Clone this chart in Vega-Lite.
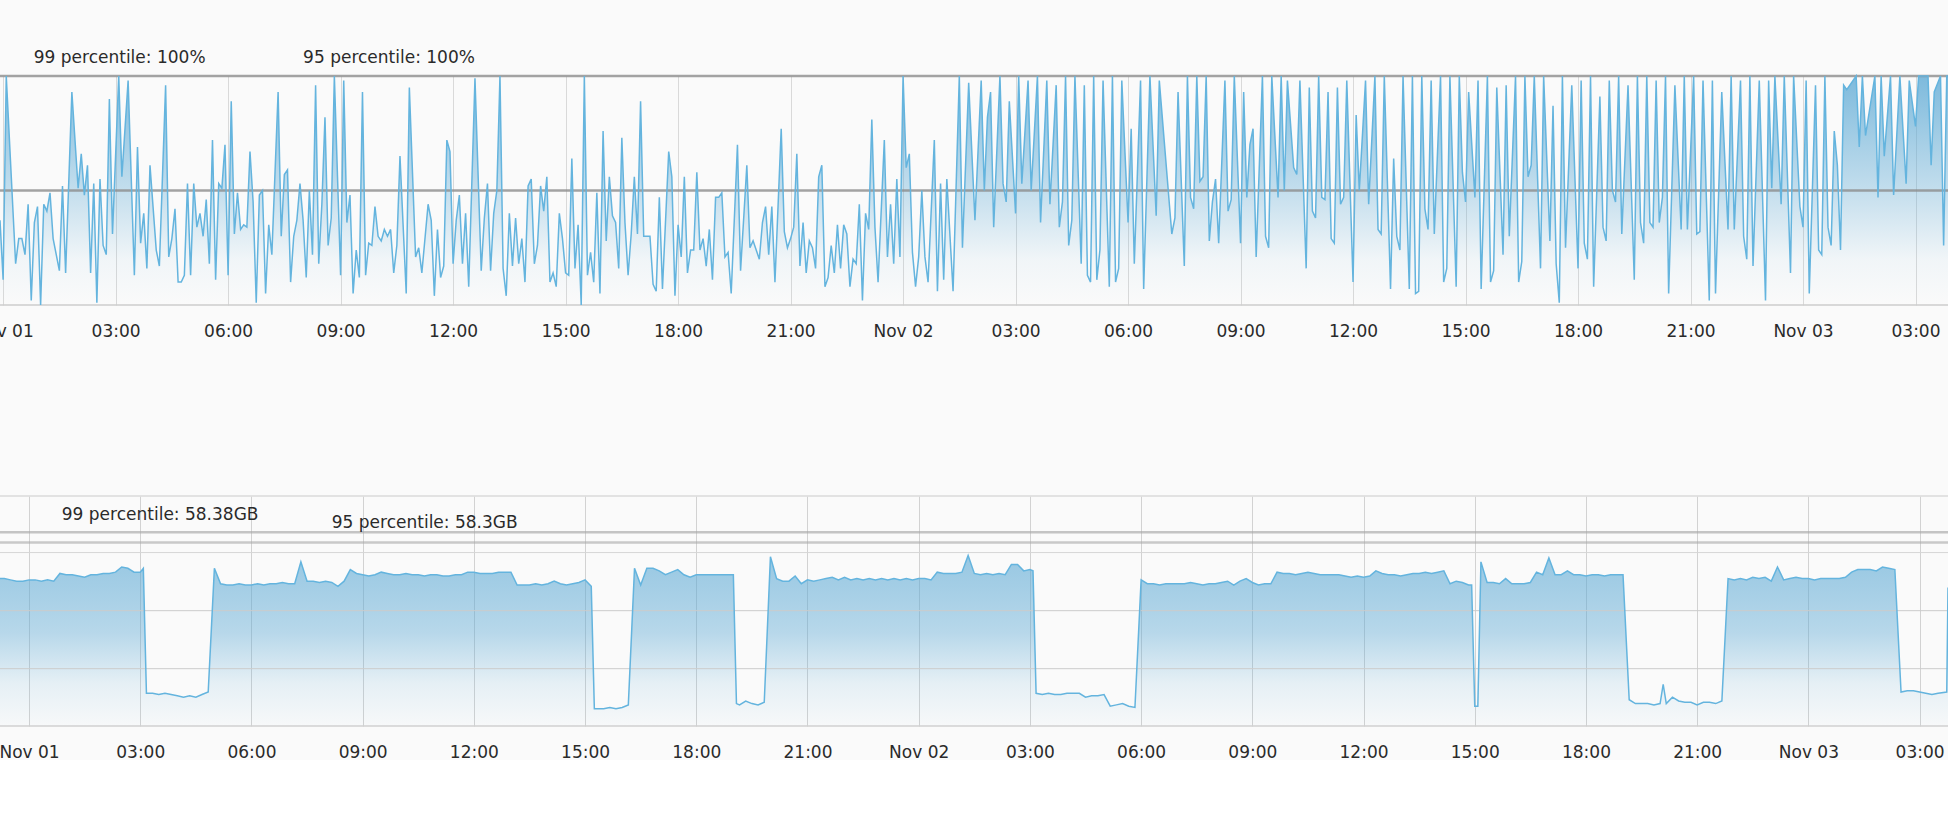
{
  "$schema": "https://vega.github.io/schema/vega-lite/v6.json",
  "padding": {"left": -27, "top": 48, "right": 0, "bottom": 0},
  "background": "#fafafa",
  "spacing": 191,
  "bounds": "flush",
  "config": {"view": {"stroke": null}, "font": "DejaVu Sans"},
  "datasets": {
    "cpu": [
      {"t":"2023-10-31T23:55","v":37},{"t":"2023-11-01T00:00","v":11},{"t":"2023-11-01T00:05","v":100},{"t":"2023-11-01T00:20","v":18},
      {"t":"2023-11-01T00:25","v":29},{"t":"2023-11-01T00:30","v":29},{"t":"2023-11-01T00:35","v":22},{"t":"2023-11-01T00:40","v":44},
      {"t":"2023-11-01T00:45","v":2},{"t":"2023-11-01T00:50","v":36},{"t":"2023-11-01T00:55","v":43},{"t":"2023-11-01T01:00","v":0},
      {"t":"2023-11-01T01:05","v":44},{"t":"2023-11-01T01:10","v":41},{"t":"2023-11-01T01:15","v":49},{"t":"2023-11-01T01:20","v":29},
      {"t":"2023-11-01T01:30","v":15},{"t":"2023-11-01T01:35","v":52},{"t":"2023-11-01T01:40","v":14},{"t":"2023-11-01T01:50","v":93},
      {"t":"2023-11-01T02:00","v":51},{"t":"2023-11-01T02:05","v":66},{"t":"2023-11-01T02:10","v":48},{"t":"2023-11-01T02:15","v":61},
      {"t":"2023-11-01T02:20","v":14},{"t":"2023-11-01T02:25","v":53},{"t":"2023-11-01T02:30","v":1},{"t":"2023-11-01T02:35","v":55},
      {"t":"2023-11-01T02:40","v":26},{"t":"2023-11-01T02:45","v":22},{"t":"2023-11-01T02:50","v":90},{"t":"2023-11-01T02:55","v":31},
      {"t":"2023-11-01T03:05","v":100},{"t":"2023-11-01T03:10","v":56},{"t":"2023-11-01T03:20","v":98},{"t":"2023-11-01T03:30","v":13},
      {"t":"2023-11-01T03:35","v":69},{"t":"2023-11-01T03:40","v":27},{"t":"2023-11-01T03:45","v":40},{"t":"2023-11-01T03:50","v":16},
      {"t":"2023-11-01T03:55","v":61},{"t":"2023-11-01T04:05","v":24},{"t":"2023-11-01T04:10","v":17},{"t":"2023-11-01T04:20","v":96},
      {"t":"2023-11-01T04:25","v":21},{"t":"2023-11-01T04:30","v":29},{"t":"2023-11-01T04:35","v":42},{"t":"2023-11-01T04:40","v":10},
      {"t":"2023-11-01T04:45","v":10},{"t":"2023-11-01T04:50","v":13},{"t":"2023-11-01T04:55","v":53},{"t":"2023-11-01T05:00","v":13},
      {"t":"2023-11-01T05:05","v":53},{"t":"2023-11-01T05:10","v":34},{"t":"2023-11-01T05:15","v":40},{"t":"2023-11-01T05:20","v":30},
      {"t":"2023-11-01T05:25","v":46},{"t":"2023-11-01T05:30","v":18},{"t":"2023-11-01T05:35","v":72},{"t":"2023-11-01T05:40","v":11},
      {"t":"2023-11-01T05:45","v":53},{"t":"2023-11-01T05:50","v":51},{"t":"2023-11-01T05:55","v":70},{"t":"2023-11-01T06:00","v":13},
      {"t":"2023-11-01T06:05","v":89},{"t":"2023-11-01T06:10","v":31},{"t":"2023-11-01T06:15","v":49},{"t":"2023-11-01T06:20","v":33},
      {"t":"2023-11-01T06:25","v":35},{"t":"2023-11-01T06:30","v":34},{"t":"2023-11-01T06:35","v":67},{"t":"2023-11-01T06:40","v":45},
      {"t":"2023-11-01T06:45","v":1},{"t":"2023-11-01T06:50","v":48},{"t":"2023-11-01T06:55","v":50},{"t":"2023-11-01T07:00","v":5},
      {"t":"2023-11-01T07:05","v":35},{"t":"2023-11-01T07:10","v":22},{"t":"2023-11-01T07:20","v":93},{"t":"2023-11-01T07:25","v":30},
      {"t":"2023-11-01T07:30","v":57},{"t":"2023-11-01T07:35","v":59},{"t":"2023-11-01T07:40","v":10},{"t":"2023-11-01T07:45","v":30},
      {"t":"2023-11-01T07:50","v":37},{"t":"2023-11-01T07:55","v":53},{"t":"2023-11-01T08:00","v":37},{"t":"2023-11-01T08:05","v":12},
      {"t":"2023-11-01T08:10","v":50},{"t":"2023-11-01T08:15","v":22},{"t":"2023-11-01T08:20","v":96},{"t":"2023-11-01T08:25","v":18},
      {"t":"2023-11-01T08:30","v":44},{"t":"2023-11-01T08:35","v":82},{"t":"2023-11-01T08:40","v":26},{"t":"2023-11-01T08:45","v":38},
      {"t":"2023-11-01T08:50","v":100},{"t":"2023-11-01T09:00","v":13},{"t":"2023-11-01T09:05","v":98},{"t":"2023-11-01T09:10","v":36},
      {"t":"2023-11-01T09:15","v":48},{"t":"2023-11-01T09:20","v":5},{"t":"2023-11-01T09:25","v":24},{"t":"2023-11-01T09:30","v":12},
      {"t":"2023-11-01T09:35","v":93},{"t":"2023-11-01T09:40","v":13},{"t":"2023-11-01T09:45","v":27},{"t":"2023-11-01T09:50","v":26},
      {"t":"2023-11-01T09:55","v":43},{"t":"2023-11-01T10:00","v":30},{"t":"2023-11-01T10:05","v":28},{"t":"2023-11-01T10:10","v":33},
      {"t":"2023-11-01T10:15","v":30},{"t":"2023-11-01T10:20","v":33},{"t":"2023-11-01T10:25","v":14},{"t":"2023-11-01T10:30","v":26},
      {"t":"2023-11-01T10:35","v":65},{"t":"2023-11-01T10:45","v":5},{"t":"2023-11-01T10:50","v":95},{"t":"2023-11-01T11:00","v":21},
      {"t":"2023-11-01T11:05","v":25},{"t":"2023-11-01T11:10","v":14},{"t":"2023-11-01T11:20","v":44},{"t":"2023-11-01T11:25","v":37},
      {"t":"2023-11-01T11:30","v":4},{"t":"2023-11-01T11:35","v":33},{"t":"2023-11-01T11:40","v":12},{"t":"2023-11-01T11:45","v":17},
      {"t":"2023-11-01T11:50","v":72},{"t":"2023-11-01T11:55","v":67},{"t":"2023-11-01T12:00","v":18},{"t":"2023-11-01T12:05","v":37},
      {"t":"2023-11-01T12:10","v":48},{"t":"2023-11-01T12:15","v":18},{"t":"2023-11-01T12:20","v":40},{"t":"2023-11-01T12:25","v":8},
      {"t":"2023-11-01T12:35","v":99},{"t":"2023-11-01T12:45","v":15},{"t":"2023-11-01T12:50","v":38},{"t":"2023-11-01T12:55","v":53},
      {"t":"2023-11-01T13:00","v":15},{"t":"2023-11-01T13:05","v":40},{"t":"2023-11-01T13:10","v":50},{"t":"2023-11-01T13:15","v":100},
      {"t":"2023-11-01T13:20","v":16},{"t":"2023-11-01T13:25","v":4},{"t":"2023-11-01T13:30","v":40},{"t":"2023-11-01T13:35","v":17},
      {"t":"2023-11-01T13:40","v":38},{"t":"2023-11-01T13:45","v":18},{"t":"2023-11-01T13:50","v":29},{"t":"2023-11-01T13:55","v":10},
      {"t":"2023-11-01T14:00","v":52},{"t":"2023-11-01T14:05","v":55},{"t":"2023-11-01T14:10","v":18},{"t":"2023-11-01T14:15","v":26},
      {"t":"2023-11-01T14:20","v":52},{"t":"2023-11-01T14:25","v":41},{"t":"2023-11-01T14:30","v":56},{"t":"2023-11-01T14:35","v":10},
      {"t":"2023-11-01T14:40","v":14},{"t":"2023-11-01T14:45","v":8},{"t":"2023-11-01T14:50","v":40},{"t":"2023-11-01T14:55","v":29},
      {"t":"2023-11-01T15:00","v":14},{"t":"2023-11-01T15:05","v":13},{"t":"2023-11-01T15:10","v":64},{"t":"2023-11-01T15:15","v":16},
      {"t":"2023-11-01T15:20","v":35},{"t":"2023-11-01T15:25","v":0},{"t":"2023-11-01T15:30","v":100},{"t":"2023-11-01T15:35","v":13},
      {"t":"2023-11-01T15:40","v":23},{"t":"2023-11-01T15:45","v":10},{"t":"2023-11-01T15:50","v":49},{"t":"2023-11-01T15:55","v":5},
      {"t":"2023-11-01T16:00","v":76},{"t":"2023-11-01T16:05","v":28},{"t":"2023-11-01T16:10","v":56},{"t":"2023-11-01T16:15","v":39},
      {"t":"2023-11-01T16:20","v":36},{"t":"2023-11-01T16:25","v":16},{"t":"2023-11-01T16:30","v":73},{"t":"2023-11-01T16:35","v":36},
      {"t":"2023-11-01T16:40","v":13},{"t":"2023-11-01T16:45","v":31},{"t":"2023-11-01T16:50","v":56},{"t":"2023-11-01T16:55","v":31},
      {"t":"2023-11-01T17:00","v":89},{"t":"2023-11-01T17:05","v":30},{"t":"2023-11-01T17:15","v":30},{"t":"2023-11-01T17:20","v":9},
      {"t":"2023-11-01T17:25","v":6},{"t":"2023-11-01T17:30","v":47},{"t":"2023-11-01T17:35","v":7},{"t":"2023-11-01T17:45","v":67},
      {"t":"2023-11-01T17:50","v":56},{"t":"2023-11-01T17:55","v":4},{"t":"2023-11-01T18:00","v":35},{"t":"2023-11-01T18:05","v":21},
      {"t":"2023-11-01T18:10","v":56},{"t":"2023-11-01T18:15","v":14},{"t":"2023-11-01T18:20","v":24},{"t":"2023-11-01T18:25","v":24},
      {"t":"2023-11-01T18:30","v":58},{"t":"2023-11-01T18:35","v":24},{"t":"2023-11-01T18:40","v":29},{"t":"2023-11-01T18:45","v":17},
      {"t":"2023-11-01T18:50","v":33},{"t":"2023-11-01T18:55","v":11},{"t":"2023-11-01T19:00","v":47},{"t":"2023-11-01T19:05","v":47},
      {"t":"2023-11-01T19:10","v":49},{"t":"2023-11-01T19:15","v":21},{"t":"2023-11-01T19:20","v":23},{"t":"2023-11-01T19:25","v":5},
      {"t":"2023-11-01T19:35","v":70},{"t":"2023-11-01T19:40","v":15},{"t":"2023-11-01T19:45","v":38},{"t":"2023-11-01T19:50","v":61},
      {"t":"2023-11-01T19:55","v":25},{"t":"2023-11-01T20:00","v":28},{"t":"2023-11-01T20:05","v":24},{"t":"2023-11-01T20:10","v":20},
      {"t":"2023-11-01T20:15","v":36},{"t":"2023-11-01T20:20","v":43},{"t":"2023-11-01T20:25","v":22},{"t":"2023-11-01T20:30","v":43},
      {"t":"2023-11-01T20:35","v":10},{"t":"2023-11-01T20:45","v":77},{"t":"2023-11-01T20:50","v":32},{"t":"2023-11-01T20:55","v":25},
      {"t":"2023-11-01T21:00","v":29},{"t":"2023-11-01T21:05","v":34},{"t":"2023-11-01T21:10","v":66},{"t":"2023-11-01T21:15","v":17},
      {"t":"2023-11-01T21:20","v":36},{"t":"2023-11-01T21:25","v":14},{"t":"2023-11-01T21:30","v":28},{"t":"2023-11-01T21:35","v":25},
      {"t":"2023-11-01T21:40","v":16},{"t":"2023-11-01T21:45","v":56},{"t":"2023-11-01T21:50","v":61},{"t":"2023-11-01T21:55","v":8},
      {"t":"2023-11-01T22:00","v":12},{"t":"2023-11-01T22:05","v":26},{"t":"2023-11-01T22:10","v":14},{"t":"2023-11-01T22:15","v":35},
      {"t":"2023-11-01T22:20","v":16},{"t":"2023-11-01T22:25","v":35},{"t":"2023-11-01T22:30","v":31},{"t":"2023-11-01T22:35","v":8},
      {"t":"2023-11-01T22:40","v":20},{"t":"2023-11-01T22:45","v":18},{"t":"2023-11-01T22:50","v":44},{"t":"2023-11-01T22:55","v":2},
      {"t":"2023-11-01T23:00","v":40},{"t":"2023-11-01T23:05","v":33},{"t":"2023-11-01T23:10","v":81},{"t":"2023-11-01T23:15","v":34},
      {"t":"2023-11-01T23:20","v":10},{"t":"2023-11-01T23:30","v":72},{"t":"2023-11-01T23:35","v":21},{"t":"2023-11-01T23:40","v":44},
      {"t":"2023-11-01T23:45","v":18},{"t":"2023-11-01T23:50","v":55},{"t":"2023-11-01T23:55","v":21},{"t":"2023-11-02T00:00","v":100},
      {"t":"2023-11-02T00:05","v":60},{"t":"2023-11-02T00:10","v":66},{"t":"2023-11-02T00:15","v":23},{"t":"2023-11-02T00:20","v":8},
      {"t":"2023-11-02T00:25","v":21},{"t":"2023-11-02T00:30","v":50},{"t":"2023-11-02T00:35","v":21},{"t":"2023-11-02T00:40","v":10},
      {"t":"2023-11-02T00:50","v":72},{"t":"2023-11-02T00:55","v":6},{"t":"2023-11-02T01:00","v":53},{"t":"2023-11-02T01:05","v":11},
      {"t":"2023-11-02T01:10","v":55},{"t":"2023-11-02T01:20","v":6},{"t":"2023-11-02T01:30","v":100},{"t":"2023-11-02T01:35","v":25},
      {"t":"2023-11-02T01:45","v":97},{"t":"2023-11-02T01:55","v":37},{"t":"2023-11-02T02:05","v":98},{"t":"2023-11-02T02:10","v":50},
      {"t":"2023-11-02T02:15","v":82},{"t":"2023-11-02T02:20","v":93},{"t":"2023-11-02T02:25","v":34},{"t":"2023-11-02T02:35","v":100},
      {"t":"2023-11-02T02:40","v":53},{"t":"2023-11-02T02:45","v":45},{"t":"2023-11-02T02:50","v":89},{"t":"2023-11-02T03:00","v":40},
      {"t":"2023-11-02T03:05","v":100},{"t":"2023-11-02T03:10","v":53},{"t":"2023-11-02T03:20","v":98},{"t":"2023-11-02T03:25","v":50},
      {"t":"2023-11-02T03:35","v":100},{"t":"2023-11-02T03:40","v":36},{"t":"2023-11-02T03:50","v":98},{"t":"2023-11-02T03:55","v":44},
      {"t":"2023-11-02T04:05","v":96},{"t":"2023-11-02T04:10","v":34},{"t":"2023-11-02T04:15","v":45},{"t":"2023-11-02T04:20","v":100},
      {"t":"2023-11-02T04:25","v":26},{"t":"2023-11-02T04:30","v":37},{"t":"2023-11-02T04:35","v":100},{"t":"2023-11-02T04:45","v":18},
      {"t":"2023-11-02T04:50","v":96},{"t":"2023-11-02T04:55","v":13},{"t":"2023-11-02T05:00","v":10},{"t":"2023-11-02T05:05","v":100},
      {"t":"2023-11-02T05:10","v":11},{"t":"2023-11-02T05:15","v":24},{"t":"2023-11-02T05:20","v":98},{"t":"2023-11-02T05:30","v":8},
      {"t":"2023-11-02T05:35","v":100},{"t":"2023-11-02T05:40","v":10},{"t":"2023-11-02T05:45","v":16},{"t":"2023-11-02T05:50","v":98},
      {"t":"2023-11-02T06:00","v":36},{"t":"2023-11-02T06:05","v":77},{"t":"2023-11-02T06:10","v":18},{"t":"2023-11-02T06:20","v":98},
      {"t":"2023-11-02T06:25","v":7},{"t":"2023-11-02T06:35","v":100},{"t":"2023-11-02T06:45","v":39},{"t":"2023-11-02T06:50","v":98},
      {"t":"2023-11-02T07:10","v":31},{"t":"2023-11-02T07:15","v":38},{"t":"2023-11-02T07:20","v":93},{"t":"2023-11-02T07:30","v":17},
      {"t":"2023-11-02T07:35","v":100},{"t":"2023-11-02T07:40","v":47},{"t":"2023-11-02T07:45","v":42},{"t":"2023-11-02T07:50","v":100},
      {"t":"2023-11-02T07:55","v":54},{"t":"2023-11-02T08:00","v":56},{"t":"2023-11-02T08:05","v":100},{"t":"2023-11-02T08:10","v":28},
      {"t":"2023-11-02T08:15","v":45},{"t":"2023-11-02T08:20","v":55},{"t":"2023-11-02T08:25","v":27},{"t":"2023-11-02T08:35","v":98},
      {"t":"2023-11-02T08:40","v":41},{"t":"2023-11-02T08:45","v":46},{"t":"2023-11-02T08:50","v":100},{"t":"2023-11-02T09:00","v":27},
      {"t":"2023-11-02T09:05","v":93},{"t":"2023-11-02T09:10","v":47},{"t":"2023-11-02T09:15","v":70},{"t":"2023-11-02T09:20","v":77},
      {"t":"2023-11-02T09:25","v":21},{"t":"2023-11-02T09:35","v":100},{"t":"2023-11-02T09:40","v":30},{"t":"2023-11-02T09:45","v":25},
      {"t":"2023-11-02T09:50","v":100},{"t":"2023-11-02T10:00","v":47},{"t":"2023-11-02T10:05","v":100},{"t":"2023-11-02T10:10","v":50},
      {"t":"2023-11-02T10:15","v":98},{"t":"2023-11-02T10:25","v":60},{"t":"2023-11-02T10:30","v":57},{"t":"2023-11-02T10:35","v":98},
      {"t":"2023-11-02T10:45","v":16},{"t":"2023-11-02T10:50","v":95},{"t":"2023-11-02T10:55","v":41},{"t":"2023-11-02T11:00","v":38},
      {"t":"2023-11-02T11:05","v":100},{"t":"2023-11-02T11:10","v":47},{"t":"2023-11-02T11:15","v":46},{"t":"2023-11-02T11:20","v":93},
      {"t":"2023-11-02T11:25","v":29},{"t":"2023-11-02T11:30","v":27},{"t":"2023-11-02T11:35","v":95},{"t":"2023-11-02T11:40","v":44},
      {"t":"2023-11-02T11:45","v":47},{"t":"2023-11-02T11:50","v":98},{"t":"2023-11-02T12:00","v":10},{"t":"2023-11-02T12:05","v":83},
      {"t":"2023-11-02T12:10","v":50},{"t":"2023-11-02T12:20","v":98},{"t":"2023-11-02T12:25","v":44},{"t":"2023-11-02T12:35","v":100},
      {"t":"2023-11-02T12:40","v":33},{"t":"2023-11-02T12:45","v":31},{"t":"2023-11-02T12:50","v":100},{"t":"2023-11-02T13:00","v":7},
      {"t":"2023-11-02T13:05","v":64},{"t":"2023-11-02T13:10","v":30},{"t":"2023-11-02T13:15","v":24},{"t":"2023-11-02T13:20","v":100},
      {"t":"2023-11-02T13:30","v":7},{"t":"2023-11-02T13:35","v":100},{"t":"2023-11-02T13:40","v":5},{"t":"2023-11-02T13:45","v":6},
      {"t":"2023-11-02T13:50","v":100},{"t":"2023-11-02T13:55","v":42},{"t":"2023-11-02T14:00","v":33},{"t":"2023-11-02T14:05","v":98},
      {"t":"2023-11-02T14:10","v":31},{"t":"2023-11-02T14:20","v":100},{"t":"2023-11-02T14:25","v":10},{"t":"2023-11-02T14:30","v":16},
      {"t":"2023-11-02T14:35","v":100},{"t":"2023-11-02T14:45","v":8},{"t":"2023-11-02T14:50","v":100},{"t":"2023-11-02T14:55","v":58},
      {"t":"2023-11-02T15:00","v":45},{"t":"2023-11-02T15:05","v":93},{"t":"2023-11-02T15:15","v":47},{"t":"2023-11-02T15:20","v":98},
      {"t":"2023-11-02T15:25","v":7},{"t":"2023-11-02T15:35","v":100},{"t":"2023-11-02T15:40","v":10},{"t":"2023-11-02T15:45","v":15},
      {"t":"2023-11-02T15:50","v":95},{"t":"2023-11-02T16:00","v":22},{"t":"2023-11-02T16:05","v":96},{"t":"2023-11-02T16:10","v":30},
      {"t":"2023-11-02T16:20","v":100},{"t":"2023-11-02T16:25","v":10},{"t":"2023-11-02T16:30","v":19},{"t":"2023-11-02T16:35","v":100},
      {"t":"2023-11-02T16:40","v":56},{"t":"2023-11-02T16:45","v":61},{"t":"2023-11-02T16:50","v":100},{"t":"2023-11-02T17:00","v":16},
      {"t":"2023-11-02T17:05","v":100},{"t":"2023-11-02T17:15","v":28},{"t":"2023-11-02T17:20","v":87},{"t":"2023-11-02T17:25","v":18},
      {"t":"2023-11-02T17:30","v":1},{"t":"2023-11-02T17:35","v":100},{"t":"2023-11-02T17:40","v":25},{"t":"2023-11-02T17:50","v":96},
      {"t":"2023-11-02T18:00","v":16},{"t":"2023-11-02T18:05","v":98},{"t":"2023-11-02T18:10","v":27},{"t":"2023-11-02T18:15","v":20},
      {"t":"2023-11-02T18:20","v":100},{"t":"2023-11-02T18:25","v":8},{"t":"2023-11-02T18:35","v":91},{"t":"2023-11-02T18:40","v":34},
      {"t":"2023-11-02T18:45","v":28},{"t":"2023-11-02T18:50","v":98},{"t":"2023-11-02T18:55","v":50},{"t":"2023-11-02T19:00","v":45},
      {"t":"2023-11-02T19:05","v":100},{"t":"2023-11-02T19:10","v":31},{"t":"2023-11-02T19:20","v":96},{"t":"2023-11-02T19:30","v":11},
      {"t":"2023-11-02T19:35","v":100},{"t":"2023-11-02T19:40","v":36},{"t":"2023-11-02T19:45","v":27},{"t":"2023-11-02T19:50","v":100},
      {"t":"2023-11-02T19:55","v":36},{"t":"2023-11-02T20:00","v":34},{"t":"2023-11-02T20:05","v":98},{"t":"2023-11-02T20:10","v":36},
      {"t":"2023-11-02T20:15","v":47},{"t":"2023-11-02T20:20","v":100},{"t":"2023-11-02T20:25","v":5},{"t":"2023-11-02T20:35","v":96},
      {"t":"2023-11-02T20:45","v":33},{"t":"2023-11-02T20:50","v":100},{"t":"2023-11-02T20:55","v":33},{"t":"2023-11-02T21:05","v":100},
      {"t":"2023-11-02T21:10","v":31},{"t":"2023-11-02T21:15","v":32},{"t":"2023-11-02T21:20","v":98},{"t":"2023-11-02T21:30","v":2},
      {"t":"2023-11-02T21:35","v":98},{"t":"2023-11-02T21:40","v":5},{"t":"2023-11-02T21:50","v":93},{"t":"2023-11-02T22:00","v":33},
      {"t":"2023-11-02T22:05","v":100},{"t":"2023-11-02T22:10","v":33},{"t":"2023-11-02T22:20","v":98},{"t":"2023-11-02T22:25","v":30},
      {"t":"2023-11-02T22:30","v":20},{"t":"2023-11-02T22:35","v":100},{"t":"2023-11-02T22:40","v":17},{"t":"2023-11-02T22:50","v":98},
      {"t":"2023-11-02T23:00","v":2},{"t":"2023-11-02T23:05","v":98},{"t":"2023-11-02T23:10","v":51},{"t":"2023-11-02T23:15","v":100},
      {"t":"2023-11-02T23:25","v":44},{"t":"2023-11-02T23:30","v":100},{"t":"2023-11-02T23:40","v":14},{"t":"2023-11-02T23:45","v":100},
      {"t":"2023-11-02T23:55","v":43},{"t":"2023-11-03T00:00","v":34},{"t":"2023-11-03T00:05","v":98},{"t":"2023-11-03T00:10","v":5},
      {"t":"2023-11-03T00:20","v":96},{"t":"2023-11-03T00:25","v":24},{"t":"2023-11-03T00:30","v":22},{"t":"2023-11-03T00:35","v":100},
      {"t":"2023-11-03T00:40","v":34},{"t":"2023-11-03T00:45","v":26},{"t":"2023-11-03T00:50","v":76},{"t":"2023-11-03T00:55","v":61},
      {"t":"2023-11-03T01:00","v":24},{"t":"2023-11-03T01:05","v":96},{"t":"2023-11-03T01:10","v":94},{"t":"2023-11-03T01:25","v":100},
      {"t":"2023-11-03T01:30","v":69},{"t":"2023-11-03T01:35","v":100},{"t":"2023-11-03T01:40","v":74},{"t":"2023-11-03T01:55","v":100},
      {"t":"2023-11-03T02:00","v":47},{"t":"2023-11-03T02:05","v":100},{"t":"2023-11-03T02:10","v":65},{"t":"2023-11-03T02:20","v":100},
      {"t":"2023-11-03T02:25","v":48},{"t":"2023-11-03T02:35","v":100},{"t":"2023-11-03T02:45","v":53},{"t":"2023-11-03T02:50","v":98},
      {"t":"2023-11-03T03:00","v":78},{"t":"2023-11-03T03:05","v":100},{"t":"2023-11-03T03:20","v":100},{"t":"2023-11-03T03:25","v":61},
      {"t":"2023-11-03T03:30","v":93},{"t":"2023-11-03T03:40","v":100},{"t":"2023-11-03T03:45","v":26},{"t":"2023-11-03T03:50","v":100},
      {"t":"2023-11-03T03:52","v":100}
    ],
    "mem": [
      {"t":"2023-10-31T23:13","v":58.02},{"t":"2023-10-31T23:20","v":58.02},{"t":"2023-10-31T23:30","v":58.01},{"t":"2023-10-31T23:40","v":58.0},
      {"t":"2023-10-31T23:50","v":58.0},{"t":"2023-11-01T00:00","v":58.01},{"t":"2023-11-01T00:10","v":58.01},{"t":"2023-11-01T00:20","v":58.0},
      {"t":"2023-11-01T00:30","v":58.01},{"t":"2023-11-01T00:40","v":58.0},{"t":"2023-11-01T00:50","v":58.06},{"t":"2023-11-01T01:00","v":58.05},
      {"t":"2023-11-01T01:10","v":58.05},{"t":"2023-11-01T01:20","v":58.04},{"t":"2023-11-01T01:30","v":58.03},{"t":"2023-11-01T01:40","v":58.05},
      {"t":"2023-11-01T01:50","v":58.05},{"t":"2023-11-01T02:00","v":58.06},{"t":"2023-11-01T02:10","v":58.06},{"t":"2023-11-01T02:20","v":58.07},
      {"t":"2023-11-01T02:30","v":58.11},{"t":"2023-11-01T02:40","v":58.1},{"t":"2023-11-01T02:50","v":58.07},{"t":"2023-11-01T03:00","v":58.07},
      {"t":"2023-11-01T03:05","v":58.1},{"t":"2023-11-01T03:10","v":57.13},{"t":"2023-11-01T03:20","v":57.13},{"t":"2023-11-01T03:30","v":57.12},
      {"t":"2023-11-01T03:40","v":57.13},{"t":"2023-11-01T03:50","v":57.12},{"t":"2023-11-01T04:00","v":57.11},{"t":"2023-11-01T04:10","v":57.1},
      {"t":"2023-11-01T04:20","v":57.11},{"t":"2023-11-01T04:30","v":57.1},{"t":"2023-11-01T04:40","v":57.12},{"t":"2023-11-01T04:50","v":57.14},
      {"t":"2023-11-01T05:00","v":58.1},{"t":"2023-11-01T05:10","v":57.98},{"t":"2023-11-01T05:20","v":57.97},{"t":"2023-11-01T05:30","v":57.97},
      {"t":"2023-11-01T05:40","v":57.98},{"t":"2023-11-01T05:50","v":57.97},{"t":"2023-11-01T06:00","v":57.97},{"t":"2023-11-01T06:10","v":57.98},
      {"t":"2023-11-01T06:20","v":57.97},{"t":"2023-11-01T06:30","v":57.98},{"t":"2023-11-01T06:40","v":57.98},{"t":"2023-11-01T06:50","v":57.99},
      {"t":"2023-11-01T07:00","v":57.98},{"t":"2023-11-01T07:10","v":57.98},{"t":"2023-11-01T07:20","v":58.15},{"t":"2023-11-01T07:30","v":58.0},
      {"t":"2023-11-01T07:40","v":58.0},{"t":"2023-11-01T07:50","v":57.99},{"t":"2023-11-01T08:00","v":58.0},{"t":"2023-11-01T08:10","v":57.99},
      {"t":"2023-11-01T08:20","v":57.96},{"t":"2023-11-01T08:30","v":58.0},{"t":"2023-11-01T08:40","v":58.09},{"t":"2023-11-01T08:50","v":58.06},
      {"t":"2023-11-01T09:00","v":58.05},{"t":"2023-11-01T09:10","v":58.04},{"t":"2023-11-01T09:20","v":58.05},{"t":"2023-11-01T09:30","v":58.07},
      {"t":"2023-11-01T09:40","v":58.06},{"t":"2023-11-01T09:50","v":58.05},{"t":"2023-11-01T10:00","v":58.05},{"t":"2023-11-01T10:10","v":58.06},
      {"t":"2023-11-01T10:20","v":58.05},{"t":"2023-11-01T10:30","v":58.05},{"t":"2023-11-01T10:40","v":58.04},{"t":"2023-11-01T10:50","v":58.05},
      {"t":"2023-11-01T11:00","v":58.05},{"t":"2023-11-01T11:10","v":58.04},{"t":"2023-11-01T11:20","v":58.04},{"t":"2023-11-01T11:30","v":58.05},
      {"t":"2023-11-01T11:40","v":58.05},{"t":"2023-11-01T11:50","v":58.07},{"t":"2023-11-01T12:00","v":58.07},{"t":"2023-11-01T12:10","v":58.06},
      {"t":"2023-11-01T12:20","v":58.06},{"t":"2023-11-01T12:30","v":58.06},{"t":"2023-11-01T12:40","v":58.07},{"t":"2023-11-01T12:50","v":58.07},
      {"t":"2023-11-01T13:00","v":58.07},{"t":"2023-11-01T13:10","v":57.97},{"t":"2023-11-01T13:20","v":57.97},{"t":"2023-11-01T13:30","v":57.97},
      {"t":"2023-11-01T13:40","v":57.98},{"t":"2023-11-01T13:50","v":57.97},{"t":"2023-11-01T14:00","v":57.98},{"t":"2023-11-01T14:10","v":58.0},
      {"t":"2023-11-01T14:20","v":57.98},{"t":"2023-11-01T14:30","v":57.97},{"t":"2023-11-01T14:40","v":57.98},{"t":"2023-11-01T14:50","v":57.99},
      {"t":"2023-11-01T15:00","v":58.01},{"t":"2023-11-01T15:10","v":57.96},{"t":"2023-11-01T15:15","v":57.01},{"t":"2023-11-01T15:20","v":57.01},
      {"t":"2023-11-01T15:30","v":57.01},{"t":"2023-11-01T15:40","v":57.02},{"t":"2023-11-01T15:50","v":57.01},{"t":"2023-11-01T16:00","v":57.02},
      {"t":"2023-11-01T16:10","v":57.04},{"t":"2023-11-01T16:20","v":58.1},{"t":"2023-11-01T16:30","v":57.97},{"t":"2023-11-01T16:40","v":58.1},
      {"t":"2023-11-01T16:50","v":58.1},{"t":"2023-11-01T17:00","v":58.08},{"t":"2023-11-01T17:10","v":58.05},{"t":"2023-11-01T17:20","v":58.07},
      {"t":"2023-11-01T17:30","v":58.09},{"t":"2023-11-01T17:40","v":58.05},{"t":"2023-11-01T17:50","v":58.03},{"t":"2023-11-01T18:00","v":58.05},
      {"t":"2023-11-01T18:10","v":58.05},{"t":"2023-11-01T18:20","v":58.05},{"t":"2023-11-01T18:30","v":58.05},{"t":"2023-11-01T18:40","v":58.05},
      {"t":"2023-11-01T18:50","v":58.05},{"t":"2023-11-01T19:00","v":58.05},{"t":"2023-11-01T19:05","v":57.05},{"t":"2023-11-01T19:10","v":57.04},
      {"t":"2023-11-01T19:20","v":57.07},{"t":"2023-11-01T19:30","v":57.05},{"t":"2023-11-01T19:40","v":57.04},{"t":"2023-11-01T19:50","v":57.06},
      {"t":"2023-11-01T20:00","v":58.19},{"t":"2023-11-01T20:10","v":58.02},{"t":"2023-11-01T20:20","v":58.0},{"t":"2023-11-01T20:30","v":58.0},
      {"t":"2023-11-01T20:40","v":58.04},{"t":"2023-11-01T20:50","v":57.98},{"t":"2023-11-01T21:00","v":58.01},{"t":"2023-11-01T21:10","v":58.0},
      {"t":"2023-11-01T21:20","v":58.01},{"t":"2023-11-01T21:30","v":58.02},{"t":"2023-11-01T21:40","v":58.03},{"t":"2023-11-01T21:50","v":58.01},
      {"t":"2023-11-01T22:00","v":58.03},{"t":"2023-11-01T22:10","v":58.01},{"t":"2023-11-01T22:20","v":58.02},{"t":"2023-11-01T22:30","v":58.01},
      {"t":"2023-11-01T22:40","v":58.02},{"t":"2023-11-01T22:50","v":58.01},{"t":"2023-11-01T23:00","v":58.02},{"t":"2023-11-01T23:10","v":58.01},
      {"t":"2023-11-01T23:20","v":58.02},{"t":"2023-11-01T23:30","v":58.01},{"t":"2023-11-01T23:40","v":58.02},{"t":"2023-11-01T23:50","v":58.01},
      {"t":"2023-11-02T00:00","v":58.02},{"t":"2023-11-02T00:10","v":58.02},{"t":"2023-11-02T00:20","v":58.01},{"t":"2023-11-02T00:30","v":58.07},
      {"t":"2023-11-02T00:40","v":58.06},{"t":"2023-11-02T00:50","v":58.06},{"t":"2023-11-02T01:00","v":58.06},{"t":"2023-11-02T01:10","v":58.07},
      {"t":"2023-11-02T01:20","v":58.2},{"t":"2023-11-02T01:30","v":58.06},{"t":"2023-11-02T01:40","v":58.05},{"t":"2023-11-02T01:50","v":58.06},
      {"t":"2023-11-02T02:00","v":58.05},{"t":"2023-11-02T02:10","v":58.06},{"t":"2023-11-02T02:20","v":58.05},{"t":"2023-11-02T02:30","v":58.13},
      {"t":"2023-11-02T02:40","v":58.13},{"t":"2023-11-02T02:50","v":58.08},{"t":"2023-11-02T03:00","v":58.09},{"t":"2023-11-02T03:05","v":58.08},
      {"t":"2023-11-02T03:10","v":57.13},{"t":"2023-11-02T03:20","v":57.12},{"t":"2023-11-02T03:30","v":57.13},{"t":"2023-11-02T03:40","v":57.12},
      {"t":"2023-11-02T03:50","v":57.12},{"t":"2023-11-02T04:00","v":57.13},{"t":"2023-11-02T04:10","v":57.13},{"t":"2023-11-02T04:20","v":57.13},
      {"t":"2023-11-02T04:30","v":57.1},{"t":"2023-11-02T04:40","v":57.11},{"t":"2023-11-02T04:50","v":57.11},{"t":"2023-11-02T05:00","v":57.12},
      {"t":"2023-11-02T05:10","v":57.03},{"t":"2023-11-02T05:20","v":57.04},{"t":"2023-11-02T05:30","v":57.05},{"t":"2023-11-02T05:40","v":57.03},
      {"t":"2023-11-02T05:50","v":57.02},{"t":"2023-11-02T06:00","v":58.01},{"t":"2023-11-02T06:10","v":57.98},{"t":"2023-11-02T06:20","v":57.98},
      {"t":"2023-11-02T06:30","v":57.97},{"t":"2023-11-02T06:40","v":57.98},{"t":"2023-11-02T06:50","v":57.98},{"t":"2023-11-02T07:00","v":57.98},
      {"t":"2023-11-02T07:10","v":57.98},{"t":"2023-11-02T07:20","v":57.99},{"t":"2023-11-02T07:30","v":57.98},{"t":"2023-11-02T07:40","v":57.97},
      {"t":"2023-11-02T07:50","v":57.98},{"t":"2023-11-02T08:00","v":57.98},{"t":"2023-11-02T08:10","v":57.99},{"t":"2023-11-02T08:20","v":58.0},
      {"t":"2023-11-02T08:30","v":57.97},{"t":"2023-11-02T08:40","v":58.0},{"t":"2023-11-02T08:50","v":58.02},{"t":"2023-11-02T09:00","v":57.99},
      {"t":"2023-11-02T09:10","v":57.97},{"t":"2023-11-02T09:20","v":57.98},{"t":"2023-11-02T09:30","v":57.98},{"t":"2023-11-02T09:40","v":58.07},
      {"t":"2023-11-02T09:50","v":58.06},{"t":"2023-11-02T10:00","v":58.06},{"t":"2023-11-02T10:10","v":58.05},{"t":"2023-11-02T10:20","v":58.06},
      {"t":"2023-11-02T10:30","v":58.07},{"t":"2023-11-02T10:40","v":58.06},{"t":"2023-11-02T10:50","v":58.05},{"t":"2023-11-02T11:00","v":58.05},
      {"t":"2023-11-02T11:10","v":58.05},{"t":"2023-11-02T11:20","v":58.05},{"t":"2023-11-02T11:30","v":58.04},{"t":"2023-11-02T11:40","v":58.03},
      {"t":"2023-11-02T11:50","v":58.04},{"t":"2023-11-02T12:00","v":58.03},{"t":"2023-11-02T12:10","v":58.04},{"t":"2023-11-02T12:20","v":58.08},
      {"t":"2023-11-02T12:30","v":58.06},{"t":"2023-11-02T12:40","v":58.05},{"t":"2023-11-02T12:50","v":58.05},{"t":"2023-11-02T13:00","v":58.04},
      {"t":"2023-11-02T13:10","v":58.05},{"t":"2023-11-02T13:20","v":58.06},{"t":"2023-11-02T13:30","v":58.06},{"t":"2023-11-02T13:40","v":58.07},
      {"t":"2023-11-02T13:50","v":58.06},{"t":"2023-11-02T14:00","v":58.07},{"t":"2023-11-02T14:10","v":58.08},{"t":"2023-11-02T14:20","v":57.98},
      {"t":"2023-11-02T14:30","v":58.0},{"t":"2023-11-02T14:40","v":57.99},{"t":"2023-11-02T14:50","v":57.97},{"t":"2023-11-02T14:55","v":57.97},
      {"t":"2023-11-02T15:00","v":57.03},{"t":"2023-11-02T15:05","v":57.03},{"t":"2023-11-02T15:10","v":58.15},{"t":"2023-11-02T15:20","v":57.99},
      {"t":"2023-11-02T15:30","v":57.99},{"t":"2023-11-02T15:40","v":57.98},{"t":"2023-11-02T15:50","v":58.02},{"t":"2023-11-02T16:00","v":57.98},
      {"t":"2023-11-02T16:10","v":57.98},{"t":"2023-11-02T16:20","v":57.98},{"t":"2023-11-02T16:30","v":57.99},{"t":"2023-11-02T16:40","v":58.07},
      {"t":"2023-11-02T16:50","v":58.05},{"t":"2023-11-02T17:00","v":58.18},{"t":"2023-11-02T17:10","v":58.05},{"t":"2023-11-02T17:20","v":58.05},
      {"t":"2023-11-02T17:30","v":58.08},{"t":"2023-11-02T17:40","v":58.05},{"t":"2023-11-02T17:50","v":58.05},{"t":"2023-11-02T18:00","v":58.04},
      {"t":"2023-11-02T18:10","v":58.05},{"t":"2023-11-02T18:20","v":58.05},{"t":"2023-11-02T18:30","v":58.04},{"t":"2023-11-02T18:40","v":58.05},
      {"t":"2023-11-02T18:50","v":58.05},{"t":"2023-11-02T19:00","v":58.05},{"t":"2023-11-02T19:10","v":57.08},{"t":"2023-11-02T19:20","v":57.05},
      {"t":"2023-11-02T19:30","v":57.05},{"t":"2023-11-02T19:40","v":57.05},{"t":"2023-11-02T19:50","v":57.04},{"t":"2023-11-02T20:00","v":57.05},
      {"t":"2023-11-02T20:05","v":57.2},{"t":"2023-11-02T20:10","v":57.05},{"t":"2023-11-02T20:20","v":57.1},{"t":"2023-11-02T20:30","v":57.07},
      {"t":"2023-11-02T20:40","v":57.06},{"t":"2023-11-02T20:50","v":57.06},{"t":"2023-11-02T21:00","v":57.04},{"t":"2023-11-02T21:10","v":57.06},
      {"t":"2023-11-02T21:20","v":57.06},{"t":"2023-11-02T21:30","v":57.05},{"t":"2023-11-02T21:40","v":57.07},{"t":"2023-11-02T21:50","v":58.02},
      {"t":"2023-11-02T22:00","v":58.01},{"t":"2023-11-02T22:10","v":58.02},{"t":"2023-11-02T22:20","v":58.01},{"t":"2023-11-02T22:30","v":58.03},
      {"t":"2023-11-02T22:40","v":58.02},{"t":"2023-11-02T22:50","v":58.03},{"t":"2023-11-02T23:00","v":58.0},{"t":"2023-11-02T23:10","v":58.11},
      {"t":"2023-11-02T23:20","v":58.01},{"t":"2023-11-02T23:30","v":58.02},{"t":"2023-11-02T23:40","v":58.03},{"t":"2023-11-02T23:50","v":58.02},
      {"t":"2023-11-03T00:00","v":58.02},{"t":"2023-11-03T00:10","v":58.01},{"t":"2023-11-03T00:20","v":58.02},{"t":"2023-11-03T00:30","v":58.02},
      {"t":"2023-11-03T00:40","v":58.02},{"t":"2023-11-03T00:50","v":58.02},{"t":"2023-11-03T01:00","v":58.03},{"t":"2023-11-03T01:10","v":58.07},
      {"t":"2023-11-03T01:20","v":58.09},{"t":"2023-11-03T01:30","v":58.09},{"t":"2023-11-03T01:40","v":58.09},{"t":"2023-11-03T01:50","v":58.08},
      {"t":"2023-11-03T02:00","v":58.11},{"t":"2023-11-03T02:10","v":58.1},{"t":"2023-11-03T02:20","v":58.09},{"t":"2023-11-03T02:30","v":57.14},
      {"t":"2023-11-03T02:40","v":57.15},{"t":"2023-11-03T02:50","v":57.15},{"t":"2023-11-03T03:00","v":57.14},{"t":"2023-11-03T03:10","v":57.13},
      {"t":"2023-11-03T03:20","v":57.12},{"t":"2023-11-03T03:30","v":57.13},{"t":"2023-11-03T03:44","v":57.14},{"t":"2023-11-03T03:46","v":57.95}
    ]
  },
  "vconcat": [
    {
      "width": 1948,
      "height": 229,
      "layer": [
        {
          "data": {"name": "cpu"},
          "mark": {"type": "area", "color": {"gradient": "linear", "x1": 0, "y1": 0, "x2": 0, "y2": 1, "stops": [{"offset": 0, "color": "rgba(90,168,212,0.78)"}, {"offset": 0.5, "color": "rgba(90,168,212,0.34)"}, {"offset": 0.8, "color": "rgba(90,168,212,0.06)"}, {"offset": 1, "color": "rgba(90,168,212,0)"}]}},
          "encoding": {
            "x": {"field": "t", "type": "temporal", "title": null, "scale": {"nice": false},
              "axis": {"grid": true, "gridColor": "#d9d9d9", "gridWidth": 1, "ticks": false, "domain": false, "labelPadding": 18, "labelFontSize": 17, "labelColor": "#2a2a2a", "labelFont": "DejaVu Sans", "labelOverlap": false, "labelFlush": false, "tickCount": 18, "labelExpr": "hours(datum.value) == 0 ? timeFormat(datum.value, '%b %d') : timeFormat(datum.value, '%H:%M')"}},
            "y": {"field": "v", "type": "quantitative", "stack": null, "scale": {"domain": [0, 100], "nice": false}, "axis": null}
          }
        },
        {
          "data": {"values": [{}]},
          "mark": {"type": "rule", "color": "#cccccc", "strokeWidth": 1.5},
          "encoding": {"y": {"datum": 0, "axis": null}}
        },
        {
          "data": {"values": [{}]},
          "mark": {"type": "rule", "color": "#8c8c8c", "strokeWidth": 2.5, "opacity": 0.8},
          "encoding": {"y": {"datum": 100, "axis": null}}
        },
        {
          "data": {"values": [{}]},
          "mark": {"type": "rule", "color": "#8c8c8c", "strokeWidth": 2.5, "opacity": 0.8},
          "encoding": {"y": {"datum": 50, "axis": null}}
        },
        {
          "data": {"name": "cpu"},
          "mark": {"type": "line", "color": "#64b4de", "strokeWidth": 1.5},
          "encoding": {
            "x": {"field": "t", "type": "temporal", "title": null},
            "y": {"field": "v", "type": "quantitative", "axis": null}
          }
        },
        {
          "data": {"values": [{"t": "2023-11-01T00:49"}]},
          "mark": {"type": "text", "text": "99 percentile: 100%", "align": "left", "baseline": "alphabetic", "fontSize": 17, "color": "#2a2a2a"},
          "encoding": {
            "x": {"field": "t", "type": "temporal", "title": null},
            "y": {"datum": 105.8, "axis": null}
          }
        },
        {
          "data": {"values": [{"t": "2023-11-01T08:00"}]},
          "mark": {"type": "text", "text": "95 percentile: 100%", "align": "left", "baseline": "alphabetic", "fontSize": 17, "color": "#2a2a2a"},
          "encoding": {
            "x": {"field": "t", "type": "temporal", "title": null},
            "y": {"datum": 105.8, "axis": null}
          }
        }
      ]
    },
    {
      "width": 1948,
      "height": 230,
      "layer": [
        {
          "data": {"name": "mem"},
          "mark": {"type": "area", "color": {"gradient": "linear", "x1": 0, "y1": 0, "x2": 0, "y2": 1, "stops": [{"offset": 0, "color": "rgba(90,168,212,0.62)"}, {"offset": 0.45, "color": "rgba(90,168,212,0.42)"}, {"offset": 0.75, "color": "rgba(90,168,212,0.13)"}, {"offset": 1, "color": "rgba(90,168,212,0.02)"}]}},
          "encoding": {
            "x": {"field": "t", "type": "temporal", "title": null, "scale": {"nice": false},
              "axis": {"grid": true, "gridColor": "#d2d2d2", "gridWidth": 1, "ticks": false, "domain": false, "labelPadding": 18, "labelFontSize": 17, "labelColor": "#2a2a2a", "labelFont": "DejaVu Sans", "labelOverlap": false, "labelFlush": false, "tickCount": 18, "labelExpr": "hours(datum.value) == 0 ? timeFormat(datum.value, '%b %d') : timeFormat(datum.value, '%H:%M')"}},
            "y": {"field": "v", "type": "quantitative", "stack": null, "scale": {"domain": [56.876, 58.661], "nice": false, "zero": false}, "axis": null}
          }
        },
        {
          "data": {"values": [{}]},
          "mark": {"type": "rule", "color": "#dadada", "strokeWidth": 1.5},
          "encoding": {"y": {"datum": 58.661, "axis": null}}
        },
        {
          "data": {"values": [{}]},
          "mark": {"type": "rule", "color": "#d6d6d6", "strokeWidth": 1},
          "encoding": {"y": {"datum": 58.222, "axis": null}}
        },
        {
          "data": {"values": [{}]},
          "mark": {"type": "rule", "color": "#cccccc", "strokeWidth": 1},
          "encoding": {"y": {"datum": 57.771, "axis": null}}
        },
        {
          "data": {"values": [{}]},
          "mark": {"type": "rule", "color": "#cccccc", "strokeWidth": 1},
          "encoding": {"y": {"datum": 57.321, "axis": null}}
        },
        {
          "data": {"values": [{}]},
          "mark": {"type": "rule", "color": "#d0d0d0", "strokeWidth": 1.5},
          "encoding": {"y": {"datum": 56.876, "axis": null}}
        },
        {
          "data": {"values": [{}]},
          "mark": {"type": "rule", "color": "#a8a8a8", "strokeWidth": 2.5, "opacity": 0.65},
          "encoding": {"y": {"datum": 58.38, "axis": null}}
        },
        {
          "data": {"values": [{}]},
          "mark": {"type": "rule", "color": "#a8a8a8", "strokeWidth": 2.5, "opacity": 0.6},
          "encoding": {"y": {"datum": 58.3, "axis": null}}
        },
        {
          "data": {"name": "mem"},
          "mark": {"type": "line", "color": "#64b4de", "strokeWidth": 1.5},
          "encoding": {
            "x": {"field": "t", "type": "temporal", "title": null},
            "y": {"field": "v", "type": "quantitative", "axis": null}
          }
        },
        {
          "data": {"values": [{"t": "2023-11-01T00:53"}]},
          "mark": {"type": "text", "text": "99 percentile: 58.38GB", "align": "left", "baseline": "alphabetic", "fontSize": 17, "color": "#2a2a2a"},
          "encoding": {
            "x": {"field": "t", "type": "temporal", "title": null},
            "y": {"datum": 58.476, "axis": null}
          }
        },
        {
          "data": {"values": [{"t": "2023-11-01T08:10"}]},
          "mark": {"type": "text", "text": "95 percentile: 58.3GB", "align": "left", "baseline": "alphabetic", "fontSize": 17, "color": "#2a2a2a"},
          "encoding": {
            "x": {"field": "t", "type": "temporal", "title": null},
            "y": {"datum": 58.411, "axis": null}
          }
        }
      ]
    }
  ]
}
